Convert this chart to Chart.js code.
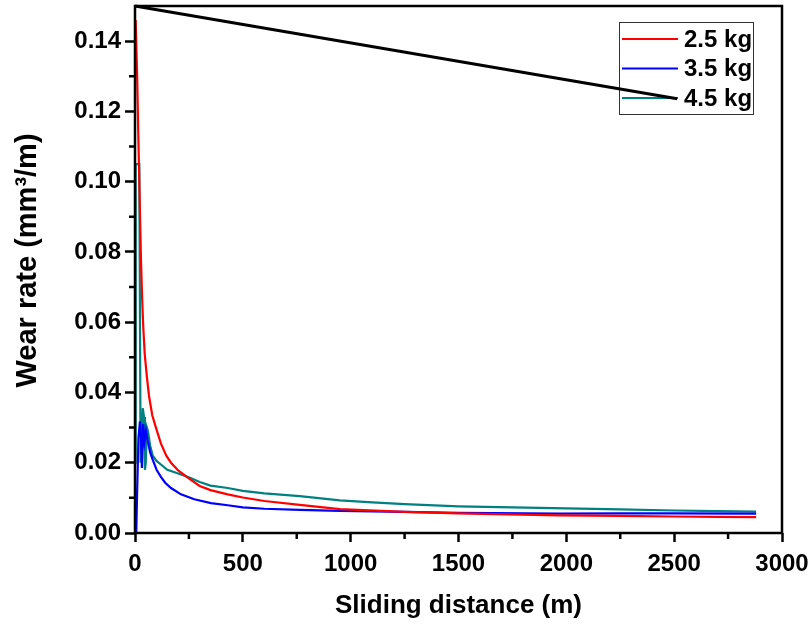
<!DOCTYPE html>
<html>
<head>
<meta charset="utf-8">
<script src="https://cdn.jsdelivr.net/npm/chart.js@4/dist/chart.umd.min.js"></script>
<style>
  html, body { margin: 0; padding: 0; background: #fff; }
  #wrap { width: 812px; height: 628px; }
</style>
</head>
<body>
<div id="wrap"><canvas id="wearChart" width="812" height="628"></canvas></div>
<script>
// values
const seriesLabels = ["2.5 kg", "3.5 kg", "4.5 kg"];
const seriesColors = ["#ff0000", "#0000ff", "#008080"];

const distRed = [3, 6, 10, 15, 20, 24, 28, 33, 38, 45, 55, 65, 80, 97, 120, 145, 167, 200, 251, 300, 350, 430, 500, 600, 764, 950, 1250, 1500, 1968, 2250, 2500, 2700, 2880];
const wearRed = [0.146, 0.139, 0.13, 0.114, 0.1, 0.088, 0.077, 0.067, 0.059, 0.051, 0.0445, 0.039, 0.0335, 0.030, 0.0255, 0.022, 0.020, 0.0178, 0.0155, 0.0134, 0.0122, 0.011, 0.0101, 0.0091, 0.008, 0.0068, 0.006, 0.0056, 0.005, 0.0049, 0.0047, 0.0046, 0.0045];

const distBlue = [2, 6, 10, 16, 23, 28, 32, 38, 44, 51, 58, 70, 82, 100, 120, 140, 167, 213, 275, 352, 430, 500, 600, 764, 950, 1250, 1500, 1968, 2250, 2500, 2880];
const wearBlue = [0, 0.0, 0.012, 0.027, 0.0318, 0.027, 0.0185, 0.031, 0.026, 0.029, 0.0265, 0.023, 0.0209, 0.018, 0.016, 0.0143, 0.0128, 0.011, 0.0096, 0.0085, 0.0079, 0.0073, 0.0069, 0.0066, 0.0063, 0.006, 0.0057, 0.0055, 0.0056, 0.0056, 0.0055];

const distTeal = [1, 3, 20, 26, 30, 36, 42, 46, 50, 55, 60, 70, 82, 100, 120, 150, 197, 255, 300, 350, 430, 500, 600, 764, 950, 1100, 1250, 1500, 1750, 2000, 2250, 2500, 2700, 2880];
const wearTeal = [0.02, 0.105, 0.105, 0.02, 0.022, 0.0355, 0.033, 0.018, 0.02, 0.03, 0.029, 0.025, 0.022, 0.0205, 0.0195, 0.018, 0.017, 0.0157, 0.0145, 0.0135, 0.0128, 0.012, 0.0113, 0.0105, 0.0093, 0.0087, 0.0082, 0.0076, 0.0073, 0.007, 0.0067, 0.0064, 0.0062, 0.0061];

// stray black line in the original figure
const distBlack = [0, 2514];
const wearBlack = [0.15, 0.1236];

const xMajor = [0, 500, 1000, 1500, 2000, 2500, 3000];
const xMinor = [250, 750, 1250, 1750, 2250, 2750];
const yMajor = [0, 0.02, 0.04, 0.06, 0.08, 0.10, 0.12, 0.14];
const yMinor = [0.01, 0.03, 0.05, 0.07, 0.09, 0.11, 0.13];

const xTitle = "Sliding distance (m)";
const yTitle = "Wear rate (mm³/m)";

function toPoints(xs, ys) {
  return xs.map((x, i) => ({ x: x, y: ys[i] }));
}

const FONT = "'Liberation Sans', Arial, sans-serif";

const series = [
  toPoints(distRed, wearRed),
  toPoints(distBlue, wearBlue),
  toPoints(distTeal, wearTeal)
].map((pts, i) => ({
  label: seriesLabels[i],
  data: pts,
  borderColor: seriesColors[i],
  borderWidth: 2.2,
  pointRadius: 0,
  tension: 0,
  inLegend: true
}));

series.push({
  label: "",
  data: toPoints(distBlack, wearBlack),
  borderColor: "#000",
  borderWidth: 3,
  pointRadius: 0,
  clip: 4,
  inLegend: false
});

// frame, minor ticks and the rotated y title
const framePlugin = {
  id: "frame",
  afterDraw(chart) {
    const { ctx, chartArea: a, scales } = chart;
    ctx.save();
    ctx.strokeStyle = "#000";
    ctx.lineWidth = 2.5;
    ctx.strokeRect(a.left, a.top, a.right - a.left, a.bottom - a.top);
    ctx.beginPath();
    yMinor.forEach(v => {
      const py = scales.y.getPixelForValue(v);
      ctx.moveTo(a.left - 6, py);
      ctx.lineTo(a.left, py);
    });
    xMinor.forEach(v => {
      const px = scales.x.getPixelForValue(v);
      ctx.moveTo(px, a.bottom);
      ctx.lineTo(px, a.bottom + 6);
    });
    ctx.stroke();

    ctx.translate(28, (a.top + a.bottom) / 2 - 9);
    ctx.rotate(-Math.PI / 2);
    ctx.font = "bold 29px " + FONT;
    ctx.fillStyle = "#000";
    ctx.textAlign = "center";
    ctx.textBaseline = "middle";
    ctx.fillText(yTitle, 0, 0);
    ctx.restore();
  }
};

// legend box in the upper right of the plot
const legendPlugin = {
  id: "boxLegend",
  beforeDatasetsDraw(chart) {
    const { ctx, chartArea: a } = chart;
    const items = chart.data.datasets.filter(d => d.inLegend);
    const boxW = 134, rowH = 29.5;
    const x0 = a.right - 29 - boxW, y0 = a.top + 16;
    const boxH = rowH * items.length + 3.5;
    ctx.save();
    ctx.fillStyle = "#fff";
    ctx.fillRect(x0, y0, boxW, boxH);
    ctx.strokeStyle = "#333";
    ctx.lineWidth = 1;
    ctx.strokeRect(x0 + 0.5, y0 + 0.5, boxW, boxH);
    ctx.font = "bold 24px " + FONT;
    ctx.textBaseline = "middle";
    ctx.fillStyle = "#000";
    items.forEach((d, i) => {
      const cy = y0 + 17 + i * rowH;
      ctx.strokeStyle = d.borderColor;
      ctx.lineWidth = 2;
      ctx.beginPath();
      ctx.moveTo(x0 + 3, cy);
      ctx.lineTo(x0 + 59, cy);
      ctx.stroke();
      ctx.fillText(d.label, x0 + 65, cy + 1);
    });
    ctx.restore();
  }
};

const tickFont = { family: FONT, size: 24, weight: "bold" };
const xTitleFont = { family: FONT, size: 26, weight: "bold" };

new Chart(document.getElementById("wearChart"), {
  type: "line",
  data: { datasets: series },
  options: {
    responsive: false,
    animation: false,
    layout: { padding: { top: 6, right: 30, left: 0, bottom: 0 } },
    plugins: {
      legend: { display: false },
      tooltip: { enabled: false }
    },
    scales: {
      x: {
        type: "linear",
        min: 0,
        max: 3000,
        afterBuildTicks: s => { s.ticks = xMajor.map(v => ({ value: v })); },
        afterFit: s => { s.height = 95; s.paddingLeft = 0; s.paddingRight = 0; },
        ticks: { font: tickFont, color: "#000", padding: 8, maxRotation: 0, callback: v => String(v) },
        grid: { drawOnChartArea: false, tickLength: 9, tickWidth: 2.5, tickColor: "#000" },
        border: { display: false },
        title: { display: true, text: xTitle, font: xTitleFont, color: "#000", padding: { top: 0, bottom: 7 } }
      },
      y: {
        min: 0,
        max: 0.15,
        afterBuildTicks: s => { s.ticks = yMajor.map(v => ({ value: v })); },
        afterFit: s => { s.width = 135; s.paddingTop = 0; s.paddingBottom = 0; },
        ticks: { font: tickFont, color: "#000", padding: 4, callback: v => v.toFixed(2) },
        grid: { drawOnChartArea: false, tickLength: 10, tickWidth: 2.5, tickColor: "#000" },
        border: { display: false },
        title: { display: false }
      }
    }
  },
  plugins: [framePlugin, legendPlugin]
});
</script>
</body>
</html>
